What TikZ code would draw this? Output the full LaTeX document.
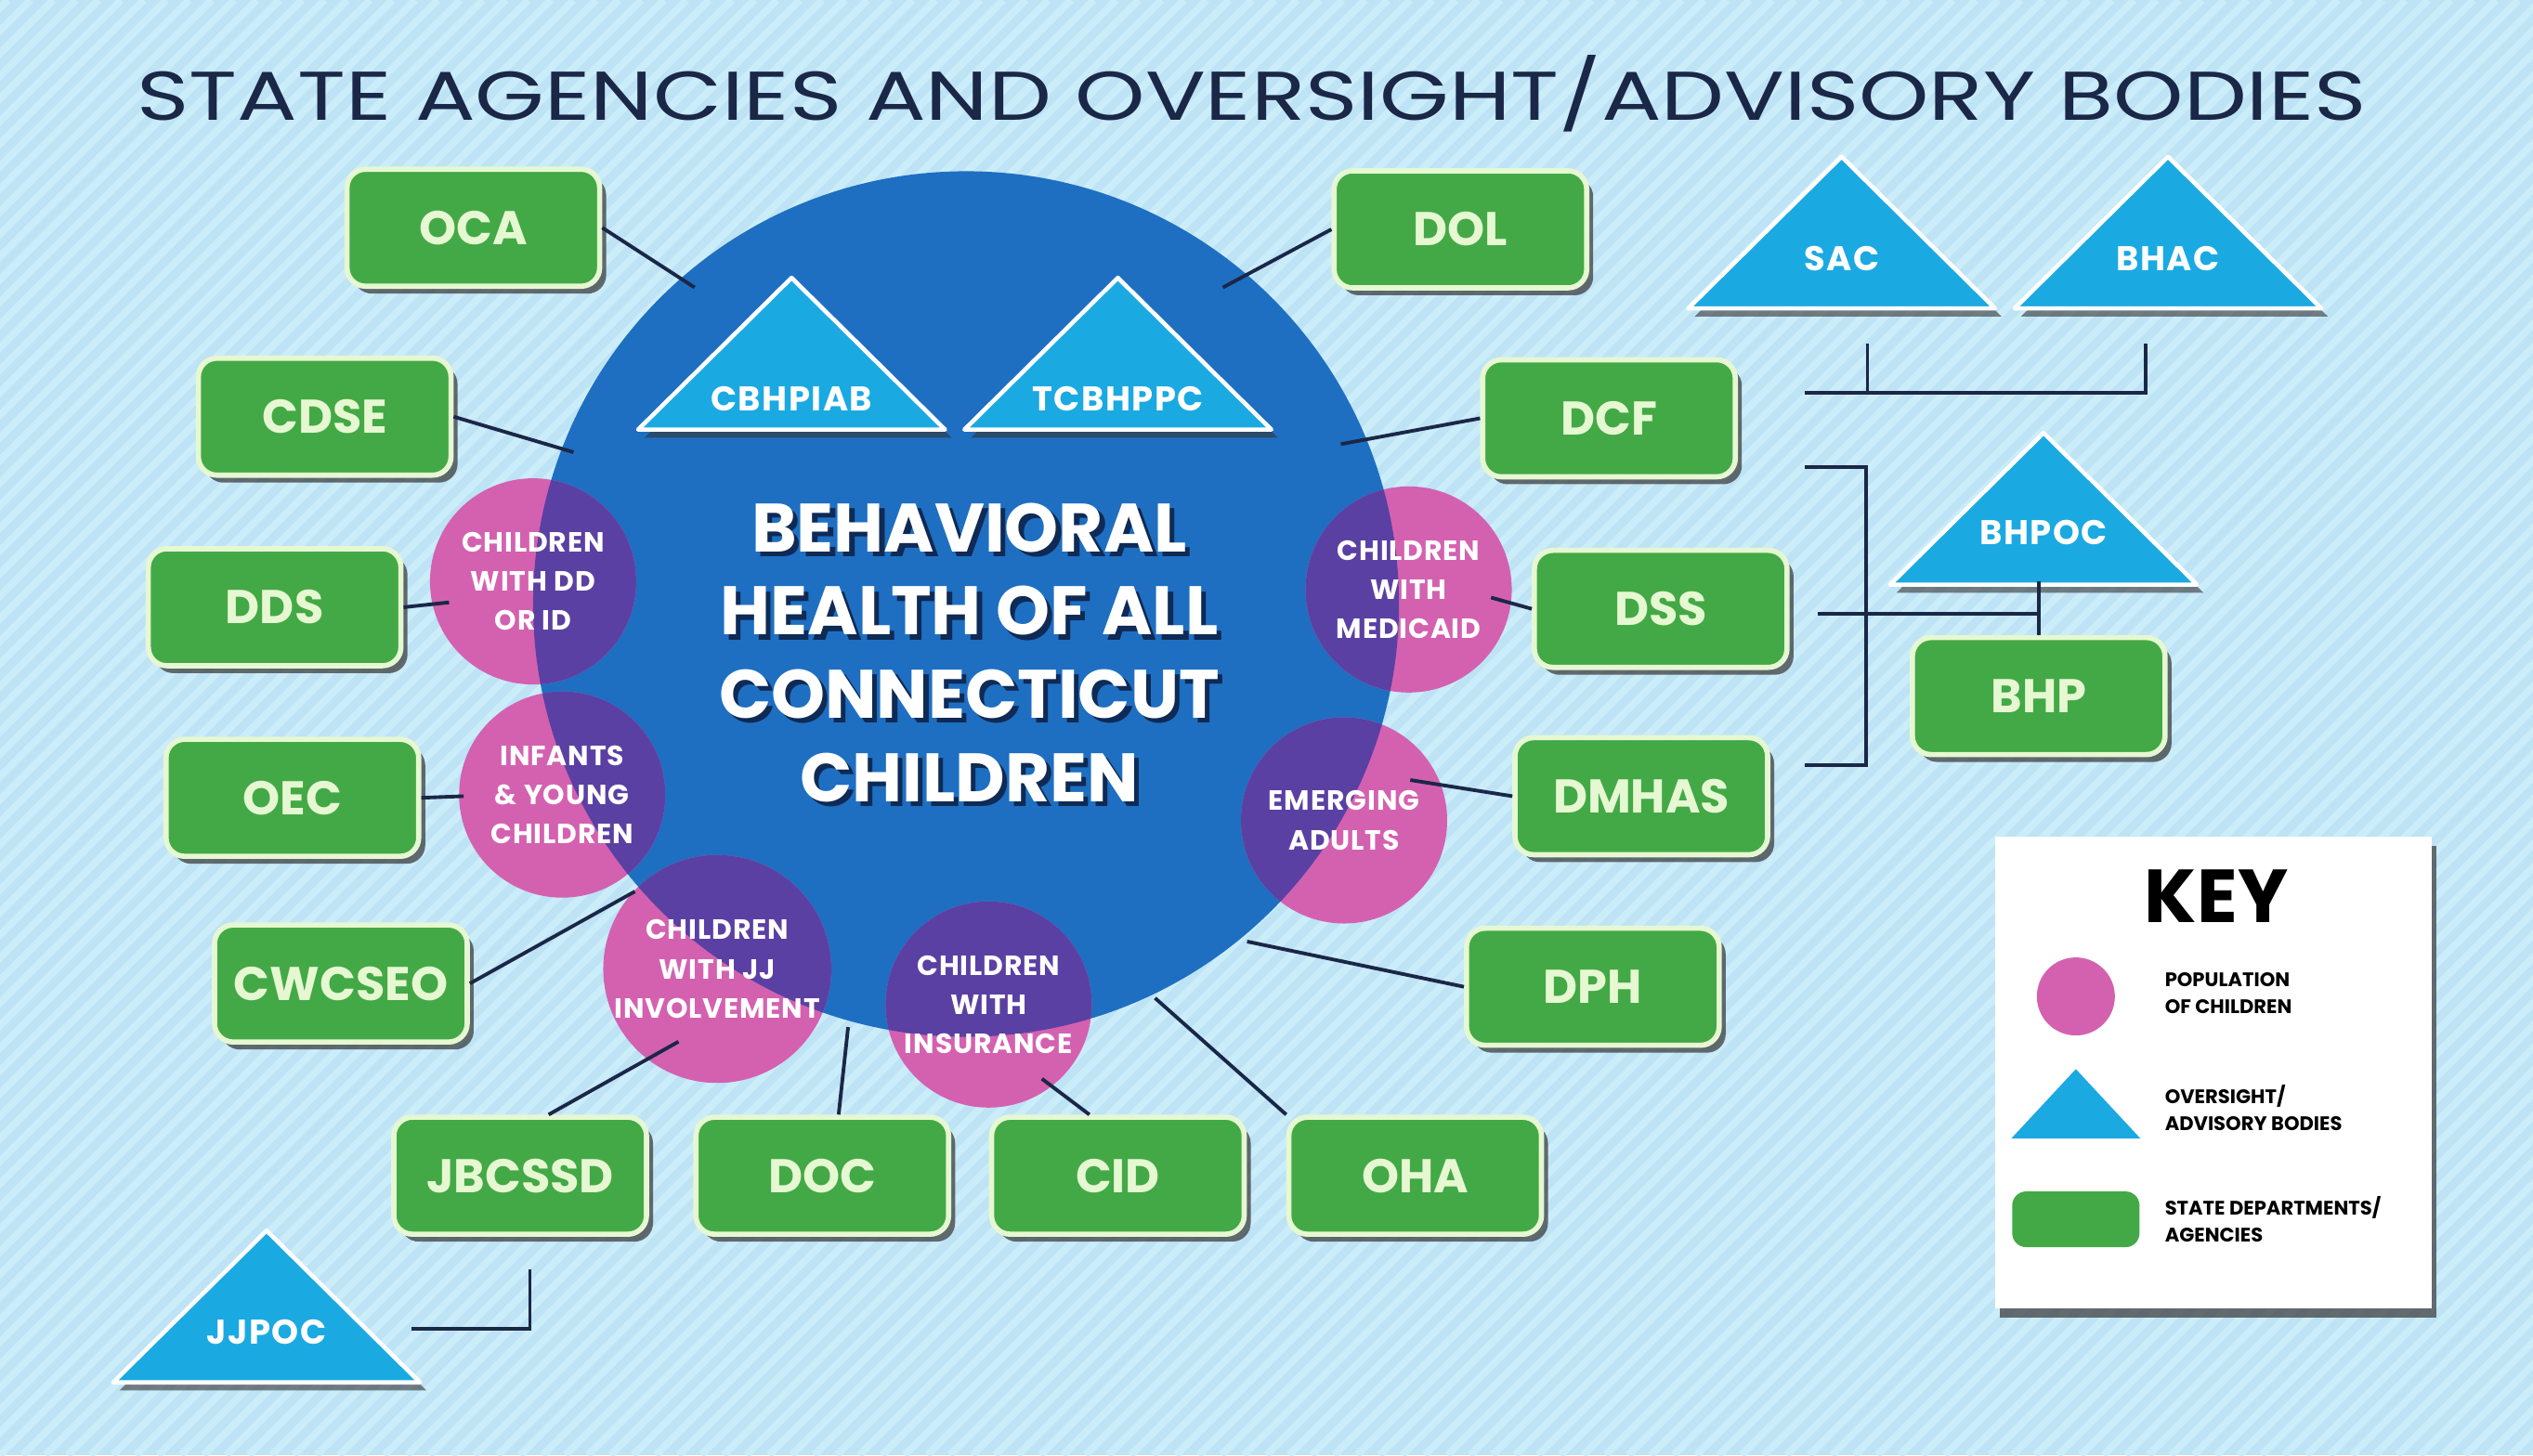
\documentclass[tikz,border=0pt]{standalone}
\usepackage{fontspec}
\setmainfont{Poppins}
\usepackage{tikz}
\usetikzlibrary{shadows,calc}
\definecolor{bgblue}{HTML}{BDE3F5}
\definecolor{stripe}{HTML}{CBECF9}
\definecolor{hubblue}{HTML}{1E6FC1}
\definecolor{popink}{HTML}{D461B0}
\definecolor{overlap}{HTML}{5B40A3}
\definecolor{agencygreen}{HTML}{43A946}
\definecolor{rim}{HTML}{E6F8D2}
\definecolor{skyblue}{HTML}{1BA9E2}
\definecolor{navy}{HTML}{1B2747}
\definecolor{textshade}{HTML}{0E2A55}
% oversight body: name, apex x, apex y, label drop, label
\newcommand{\oversight}[5]{%
  \fill[black!80,opacity=0.6] ({#2-95+4},{#3+94+5}) -- ({#2+4},{#3+5}) -- ({#2+95+4},{#3+94+5}) -- cycle;
  \filldraw[fill=skyblue,draw=white,line width=1.3pt,line join=round] ({#2-95},{#3+94}) -- (#2,#3) -- ({#2+95},{#3+94}) -- cycle;
  \node[trilabel] (#1) at (#2,{#3+#4}) {#5};}

\begin{document}
\begin{tikzpicture}[x=0.1739mm,y=-0.1739mm,
    agency/.style={rectangle,rounded corners=0.2cm,fill=agencygreen,draw=rim,line width=1.6pt,
      minimum width=2.72cm,minimum height=1.26cm,text=rim,font=\bfseries\fontsize{14.5}{16}\selectfont,
      drop shadow={shadow xshift=0.07cm,shadow yshift=-0.08cm,opacity=0.7,fill=black!80}},
    population/.style={circle,fill=popink,minimum size=2.22cm,inner sep=0pt,text=white,align=center,
      font=\bfseries\fontsize{8.5}{12}\selectfont\addfontfeatures{LetterSpace=3},
      path picture={\fill[overlap] (hub.center) circle [radius=268];}},
    trilabel/.style={text=white,font=\bfseries\fontsize{10.5}{12}\selectfont\addfontfeatures{LetterSpace=4}},
    hubtext/.style={align=center,font=\bfseries\fontsize{21}{25.5}\selectfont},
    keytext/.style={anchor=west,align=left,font=\bfseries\fontsize{6}{8}\selectfont},
    link/.style={draw=navy,line width=1.1pt}]
  % background
  \fill[bgblue] (0,0) rectangle (1568,901);
  \begin{scope}
    \clip (0,0) rectangle (1568,901);
    \foreach \i in {-910,-896,...,1580}
      \draw[stripe,line width=0.08cm] (\i,901) -- ++(901,-901);
  \end{scope}
  \useasboundingbox (0,0) rectangle (1568,901);
  \node[text=navy] (title) at (775,58)
    {\resizebox{24cm}{0.70cm}{STATE AGENCIES AND OVERSIGHT/ADVISORY BODIES}};

  % hub and populations
  \node[circle,fill=hubblue,minimum size=9.32cm,inner sep=0pt] (hub) at (598,374) {};
  \foreach \nm/\px/\py/\txt in {dd/330/360/{CHILDREN\\WITH DD\\OR ID},
      infants/348/492/{INFANTS\\\& YOUNG\\CHILDREN},
      jj/444/600/{CHILDREN\\WITH JJ\\INVOLVEMENT},
      insured/612/622/{CHILDREN\\WITH\\INSURANCE},
      medicaid/872/365/{CHILDREN\\WITH\\MEDICAID},
      adults/832/508/{EMERGING\\ADULTS}}
    \node[population] (\nm) at (\px,\py) {\txt};
  \node[hubtext,text=textshade] at (603,407) {BEHAVIORAL\\HEALTH OF ALL\\CONNECTICUT\\CHILDREN};
  \node[hubtext,text=white] (focus) at (600,404) {BEHAVIORAL\\HEALTH OF ALL\\CONNECTICUT\\CHILDREN};

  % oversight and advisory bodies
  \oversight{cbhpiab}{490}{172}{75}{CBHPIAB}
  \oversight{tcbhppc}{692}{172}{75}{TCBHPPC}
  \oversight{sac}{1140}{97}{63}{SAC}
  \oversight{bhac}{1342}{97}{63}{BHAC}
  \oversight{bhpoc}{1265}{268}{62}{BHPOC}
  \oversight{jjpoc}{165}{762}{63}{JJPOC}

  % state departments and agencies
  \foreach \nm/\px/\py in {OCA/293/141,CDSE/201/258,DDS/170/376,OEC/181/494,CWCSEO/211/609,
      JBCSSD/322/728,DOC/509/728,CID/692/728,OHA/876/728,DPH/986/611,DMHAS/1016/493,
      DSS/1028/377,DCF/996/259,DOL/904/142,BHP/1262/431}
    \node[agency] (\nm) at (\px,\py) {\nm};

  % connectors
  \foreach \nm/\px/\py in {ocaend/430/178,cdseend/355/280,ddsend/278/373,oecend/287/493,
      cwcseoend/393/552,jbcssdend/420/645,docend/525/636,cidend/645/668,ohaend/715/618,
      dphend/772/583,dmhasend/873/483,dssend/923/370,dcfend/830/275,dolend/757/178,
      govtop/1117/243,bracktop/1117/289,brackbot/1117/474,dssjoin/1125/380}
    \coordinate (\nm) at (\px,\py);
  \foreach \a/\b in {OCA.east/ocaend,CDSE.east/cdseend,DDS.east/ddsend,OEC.east/oecend,
      CWCSEO.east/cwcseoend,JBCSSD.65/jbcssdend,DOC.75/docend,CID.115/cidend,
      OHA.north west/ohaend,DPH.west/dphend,DMHAS.west/dmhasend,DSS.west/dssend,
      DCF.west/dcfend,DOL.west/dolend}
    \draw[link] (\a) -- (\b);
  \draw[link] ($(sac)+(16,53)$) -- ++(0,30);
  \draw[link] (govtop) -| ($(bhac)+(-14,53)$);
  \draw[link] (bracktop) -- (1155,289) -- (1155,474) -- (brackbot);
  \draw[link] (dssjoin) -- (dssjoin -| BHP.north);
  \draw[link] (BHP.north) -- ++(0,-33);
  \draw[link] ($(jjpoc)+(90,-2)$) -| ($(JBCSSD.south)+(6,20)$);

  % key
  \node[fill=white,minimum width=4.70cm,minimum height=5.08cm,
    drop shadow={shadow xshift=0.05cm,shadow yshift=-0.1cm,opacity=0.75,fill=black!75}] (key) at (1370,664) {};
  \node[font=\bfseries\fontsize{23}{25}\selectfont] (keytitle) at (1372,555) {KEY};
  \node[circle,fill=popink,minimum size=0.84cm,inner sep=0pt] (keypop) at (1285,617) {};
  \fill[skyblue] (1245,705) -- (1285,662) -- (1325,705) -- cycle;
  \coordinate (keytri) at (1285,690);
  \node[fill=agencygreen,rounded corners=0.15cm,minimum width=1.37cm,minimum height=0.6cm] (keyagency) at (1285,755) {};
  \node[keytext] (poplabel) at (1333,615) {POPULATION\\OF CHILDREN};
  \node[keytext] (trilabel) at (1333,686) {OVERSIGHT/\\ADVISORY BODIES};
  \node[keytext] (agencylabel) at (1333,755) {STATE DEPARTMENTS/\\AGENCIES};
\end{tikzpicture}
\end{document}
